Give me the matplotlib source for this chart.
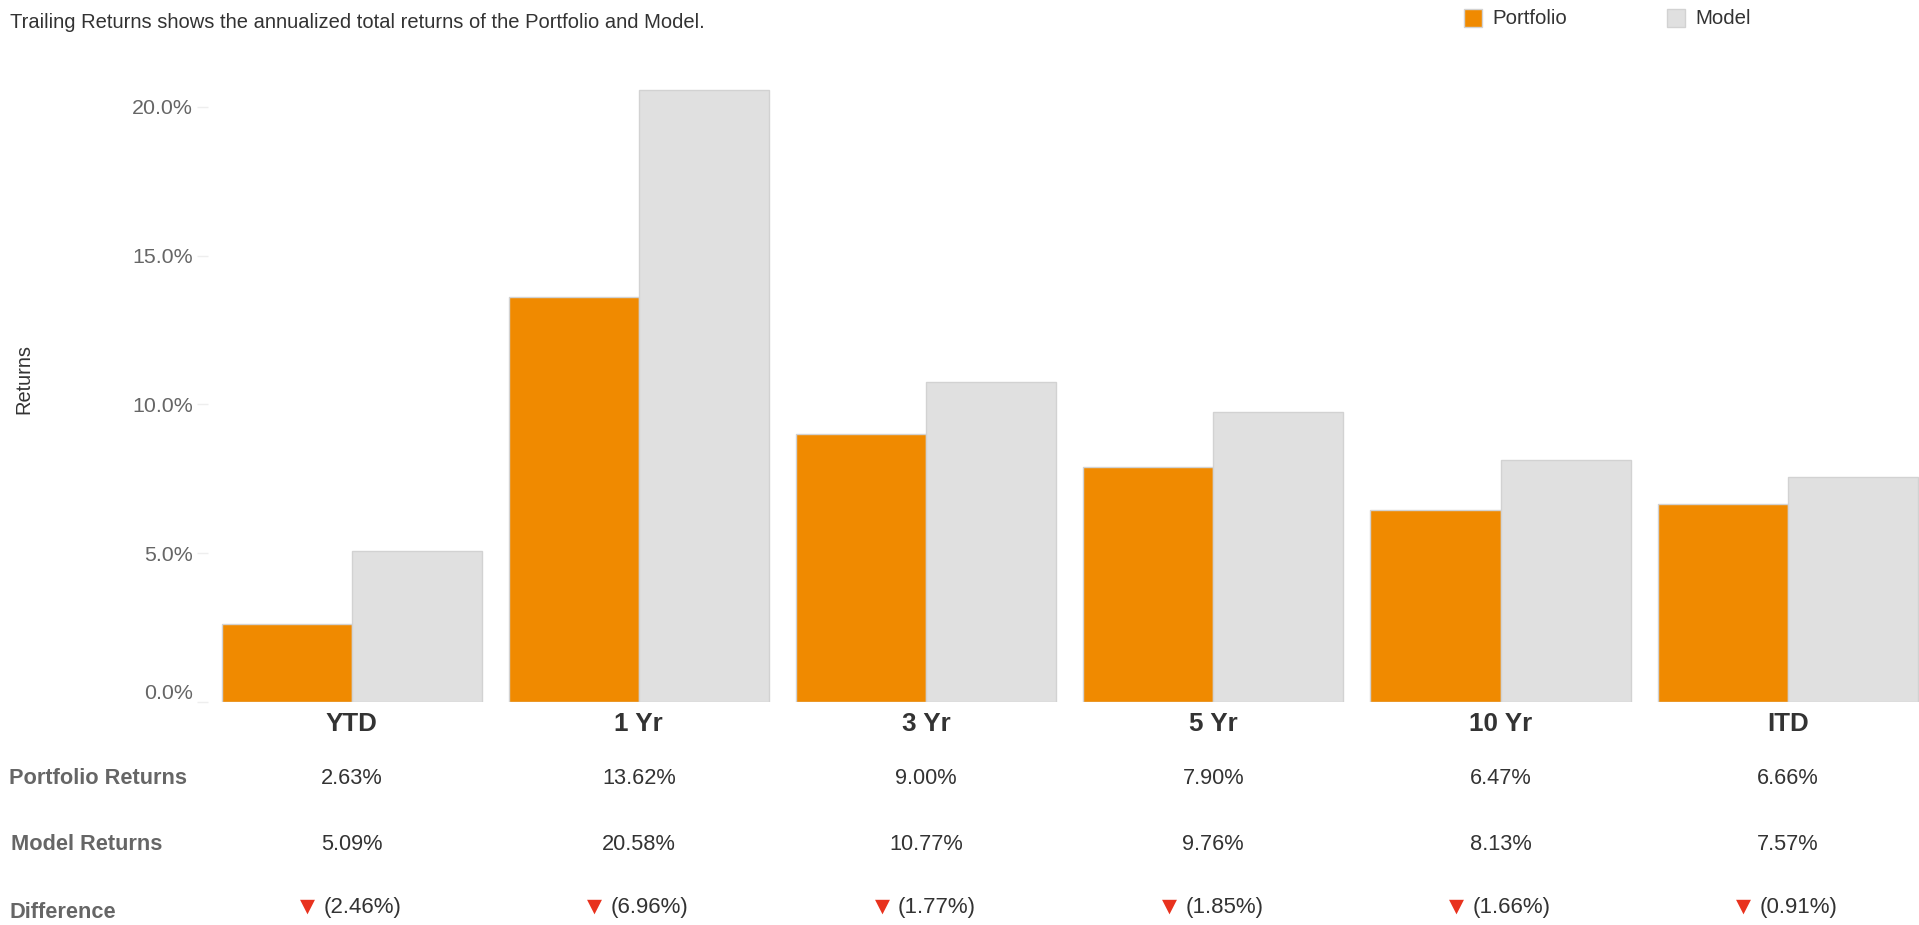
import matplotlib
matplotlib.use("Agg")
import matplotlib.pyplot as plt
import matplotlib.transforms as mtransforms
from matplotlib.patches import Rectangle
import numpy as np

plt.rcParams['font.family'] = ['Liberation Sans', 'DejaVu Sans']

periods = ["YTD", "1 Yr", "3 Yr", "5 Yr", "10 Yr", "ITD"]
portfolio = [2.63, 13.62, 9.00, 7.90, 6.47, 6.66]
model = [5.09, 20.58, 10.77, 9.76, 8.13, 7.57]
difference = [-2.46, -6.96, -1.77, -1.85, -1.66, -0.91]
yticks = [0, 5, 10, 15, 20]

orange = "#F08A00"
grey = "#E0E0E0"
edge = "#D2D2D2"
dark = "#333333"
mid = "#666666"

fig = plt.figure(figsize=(19.19, 9.25), dpi=100)
ax = fig.add_axes([0.1084, 0.2411, 0.8916, 0.6754])

x = np.arange(len(periods))
w = 0.453
ax.bar(x - w / 2, portfolio, w, color=orange, edgecolor=edge, linewidth=1)
ax.bar(x + w / 2, model, w, color=grey, edgecolor=edge, linewidth=1)

ax.set_xlim(-0.5, 5.457)
ax.set_ylim(0, 21)
for s in ax.spines.values():
    s.set_visible(False)
ax.set_yticks(yticks)
ax.set_yticklabels(["%.1f%%" % v for v in yticks], color=mid, fontsize=15.4)
ax.tick_params(axis='y', length=8, width=1, color="#EEEEEE", pad=3)
# lift the zero label a little off the baseline
zero_lbl = ax.get_yticklabels()[0]
zero_lbl.set_transform(zero_lbl.get_transform() +
                       mtransforms.ScaledTranslation(0, 10 / 100.0, fig.dpi_scale_trans))
ax.set_xticks(x)
ax.set_xticklabels(periods, fontsize=18.7, fontweight='bold', color=dark)
ax.tick_params(axis='x', length=0, pad=7)
ax.set_ylabel("Returns", fontsize=14.4, color=dark)
ax.yaxis.set_label_coords(-0.102, 0.517)

# title line
fig.text(0.005, 0.976, "Trailing Returns shows the annualized total returns of the Portfolio and Model.",
         fontsize=14.5, color=dark, va='center', ha='left')

# legend boxes
def legend_item(xpix, label, color):
    fx = xpix / 1919.0
    fig.patches.append(Rectangle((fx, 1 - 27 / 925.0), 18 / 1919.0, 18 / 925.0,
                                 transform=fig.transFigure, facecolor=color,
                                 edgecolor=edge, linewidth=1))
    fig.text(fx + 28 / 1919.0, 1 - 18 / 925.0, label, fontsize=14.7, color=dark,
             va='center', ha='left')

legend_item(1464, "Portfolio", orange)
legend_item(1667, "Model", grey)

# table beneath the chart
rows = [("Portfolio Returns", 779, 9), ("Model Returns", 845, 11), ("Difference", 913, 9)]
for label, ypix, xpix in rows:
    fig.text(xpix / 1919.0, 1 - ypix / 925.0, label, fontsize=15.7, fontweight='bold',
             color=mid, va='center', ha='left')

trans = mtransforms.blended_transform_factory(ax.transData, fig.transFigure)
for i in range(len(periods)):
    ax.text(x[i], 1 - 778 / 925.0, "%.2f%%" % portfolio[i], transform=trans,
            fontsize=15.7, color=dark, ha='center', va='center', clip_on=False)
    ax.text(x[i], 1 - 844 / 925.0, "%.2f%%" % model[i], transform=trans,
            fontsize=15.7, color=dark, ha='center', va='center', clip_on=False)
    d = difference[i]
    marker = u"\u25BC" if d < 0 else u"\u25B2"
    mcolor = "#E8321E" if d < 0 else "#2E9B3A"
    txt = "(%.2f%%)" % abs(d) if d < 0 else "%.2f%%" % d
    ax.annotate(marker, xy=(x[i], 1 - 906 / 925.0), xycoords=trans,
                xytext=(-44, 0), textcoords='offset pixels', fontsize=14,
                color=mcolor, ha='center', va='center', family='DejaVu Sans')
    ax.annotate(txt, xy=(x[i], 1 - 907 / 925.0), xycoords=trans,
                xytext=(-28, 0), textcoords='offset pixels', fontsize=16,
                color=dark, ha='left', va='center')

fig.savefig("out.png", dpi=100)
